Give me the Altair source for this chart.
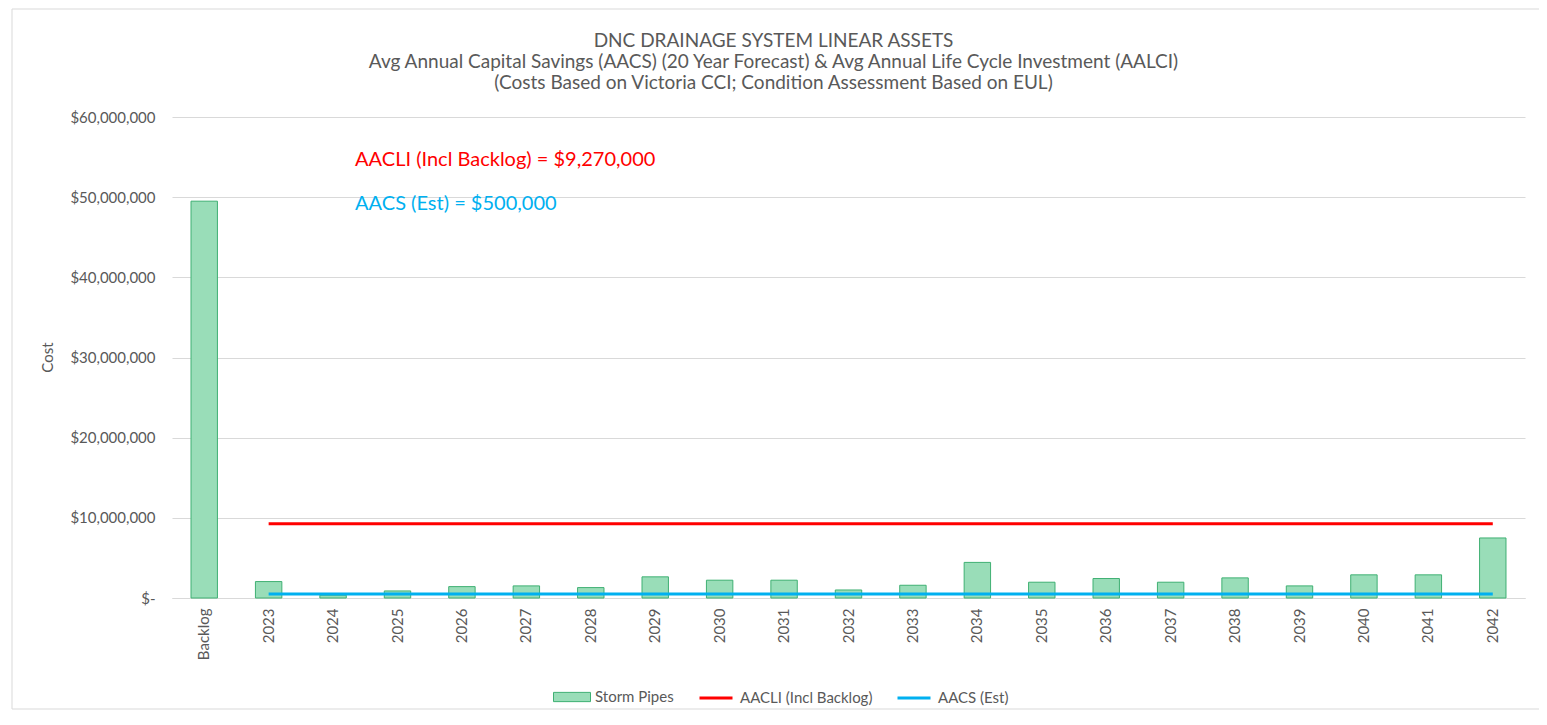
import altair as alt
import pandas as pd

# ---- data ----
CATEGORIES = ["Backlog", "2023", "2024", "2025", "2026", "2027", "2028", "2029", "2030",
              "2031", "2032", "2033", "2034", "2035", "2036", "2037", "2038", "2039",
              "2040", "2041", "2042"]
STORM_PIPES = [49500000, 2050000, 350000, 880000, 1420000, 1510000, 1300000, 2640000,
               2220000, 2220000, 1000000, 1590000, 4440000, 1970000, 2430000, 1970000,
               2510000, 1510000, 2890000, 2890000, 7490000]
LINE_YEARS = CATEGORIES[1:]
AACLI_VALUE = 9270000
AACS_VALUE = 500000
Y_TICKS = [0, 10000000, 20000000, 30000000, 40000000, 50000000, 60000000]
SERIES = ["Storm Pipes", "AACLI (Incl Backlog)", "AACS (Est)"]
ANNOTATIONS = ["AACLI (Incl Backlog) = $9,270,000", "AACS (Est) = $500,000"]
ANNOT_Y = [54600000, 49100000]
TITLE = ["DNC DRAINAGE SYSTEM LINEAR ASSETS",
         "Avg Annual Capital Savings (AACS) (20 Year Forecast) & Avg Annual Life Cycle Investment (AALCI)",
         "(Costs Based on Victoria CCI; Condition Assessment Based on EUL)"]

GREY = "#595959"
GRID = "#d9d9d9"
BAR_FILL = "#99ddb8"
BAR_STROKE = "#3fb073"
RED = "#ff0000"
BLUE = "#00b0f0"
FONT = "Lato"

bars_df = pd.DataFrame({"cat": CATEGORIES, "value": STORM_PIPES, "series": SERIES[0]})
lines_df = pd.DataFrame(
    [{"cat": c, "value": AACLI_VALUE, "series": SERIES[1]} for c in LINE_YEARS]
    + [{"cat": c, "value": AACS_VALUE, "series": SERIES[2]} for c in LINE_YEARS]
)
annot_df = pd.DataFrame({"cat": ["2024", "2024"], "value": ANNOT_Y, "label": ANNOTATIONS,
                         "series": SERIES[1:]})

x_enc = alt.X(
    "cat:N",
    sort=CATEGORIES,
    scale=alt.Scale(domain=CATEGORIES, paddingInner=0.59, paddingOuter=0.295),
    axis=alt.Axis(title=None, labelAngle=270, labelFontSize=15, labelColor=GREY,
                  labelFont=FONT, ticks=False, labelPadding=10, domainColor=GRID,
                  domainWidth=1, grid=False, labelBaseline="middle", labelAlign="right"),
)
y_enc = alt.Y(
    "value:Q",
    scale=alt.Scale(domain=[0, 60000000], nice=False),
    axis=alt.Axis(values=Y_TICKS, title="Cost", titleFontSize=15, titleColor=GREY,
                  titleFont=FONT, titleFontWeight="normal", titleAngle=270,
                  titleX=-125, titleY=240, titleAlign="center", titleBaseline="middle",
                  labelFontSize=15, labelColor=GREY, labelFont=FONT, labelPadding=17,
                  ticks=False, domain=False, grid=True, gridColor=GRID, gridWidth=1,
                  labelExpr="datum.value == 0 ? '$-' : '$' + format(datum.value, ',')"),
)

bars = alt.Chart(bars_df).mark_bar(stroke=BAR_STROKE, strokeWidth=1).encode(
    x=x_enc,
    y=y_enc,
    fill=alt.Fill(
        "series:N",
        scale=alt.Scale(domain=[SERIES[0]], range=[BAR_FILL]),
        legend=alt.Legend(orient="none", legendX=381, legendY=561, title=None,
                          direction="horizontal",
                          symbolType="M-1,-0.25H1V0.25H-1Z", symbolSize=1369,
                          symbolStrokeColor=BAR_STROKE, symbolStrokeWidth=1,
                          symbolFillColor=BAR_FILL,
                          labelFontSize=15, labelColor=GREY, labelFont=FONT,
                          labelOffset=4),
    ),
)

lines = alt.Chart(lines_df).mark_line(strokeWidth=3).encode(
    x=alt.X("cat:N", sort=CATEGORIES),
    y=alt.Y("value:Q"),
    stroke=alt.Stroke(
        "series:N",
        scale=alt.Scale(domain=SERIES[1:], range=[RED, BLUE]),
        legend=alt.Legend(orient="none", legendX=526, legendY=563, title=None,
                          direction="horizontal", symbolType="stroke",
                          symbolSize=1089, symbolStrokeWidth=3,
                          labelFontSize=15, labelColor=GREY, labelFont=FONT,
                          labelOffset=6, columnPadding=18),
    ),
    detail="series:N",
)

annots = alt.Chart(annot_df).mark_text(align="left", baseline="middle", dx=22,
                                       fontSize=20, font=FONT).encode(
    x=alt.X("cat:N", sort=CATEGORIES),
    y=alt.Y("value:Q"),
    text="label:N",
    color=alt.Color("series:N", scale=alt.Scale(domain=SERIES[1:], range=[RED, BLUE]),
                    legend=None),
)

frame = alt.Chart(pd.DataFrame({"k": [0]})).mark_rect(
    fillOpacity=0, stroke=GRID, strokeWidth=1
).encode(x=alt.value(-160), x2=alt.value(1368), y=alt.value(-108), y2=alt.value(592))

chart = alt.layer(bars, lines, annots, frame).resolve_scale(
    color="independent"
).properties(
    width=1353,
    height=481,
    padding={"left": 164, "top": 109, "right": 14, "bottom": 112},
    autosize=alt.AutoSizeParams(type="none"),
    title=alt.Title(text=TITLE, fontSize=19, color=GREY, font=FONT, fontWeight="normal",
                    anchor="middle", frame="group", dx=-75, offset=-84, lineHeight=21),
).configure(font=FONT).configure_view(strokeWidth=0, stroke="transparent")

chart.save("out.html", embed_options={"renderer": "svg", "actions": False})
